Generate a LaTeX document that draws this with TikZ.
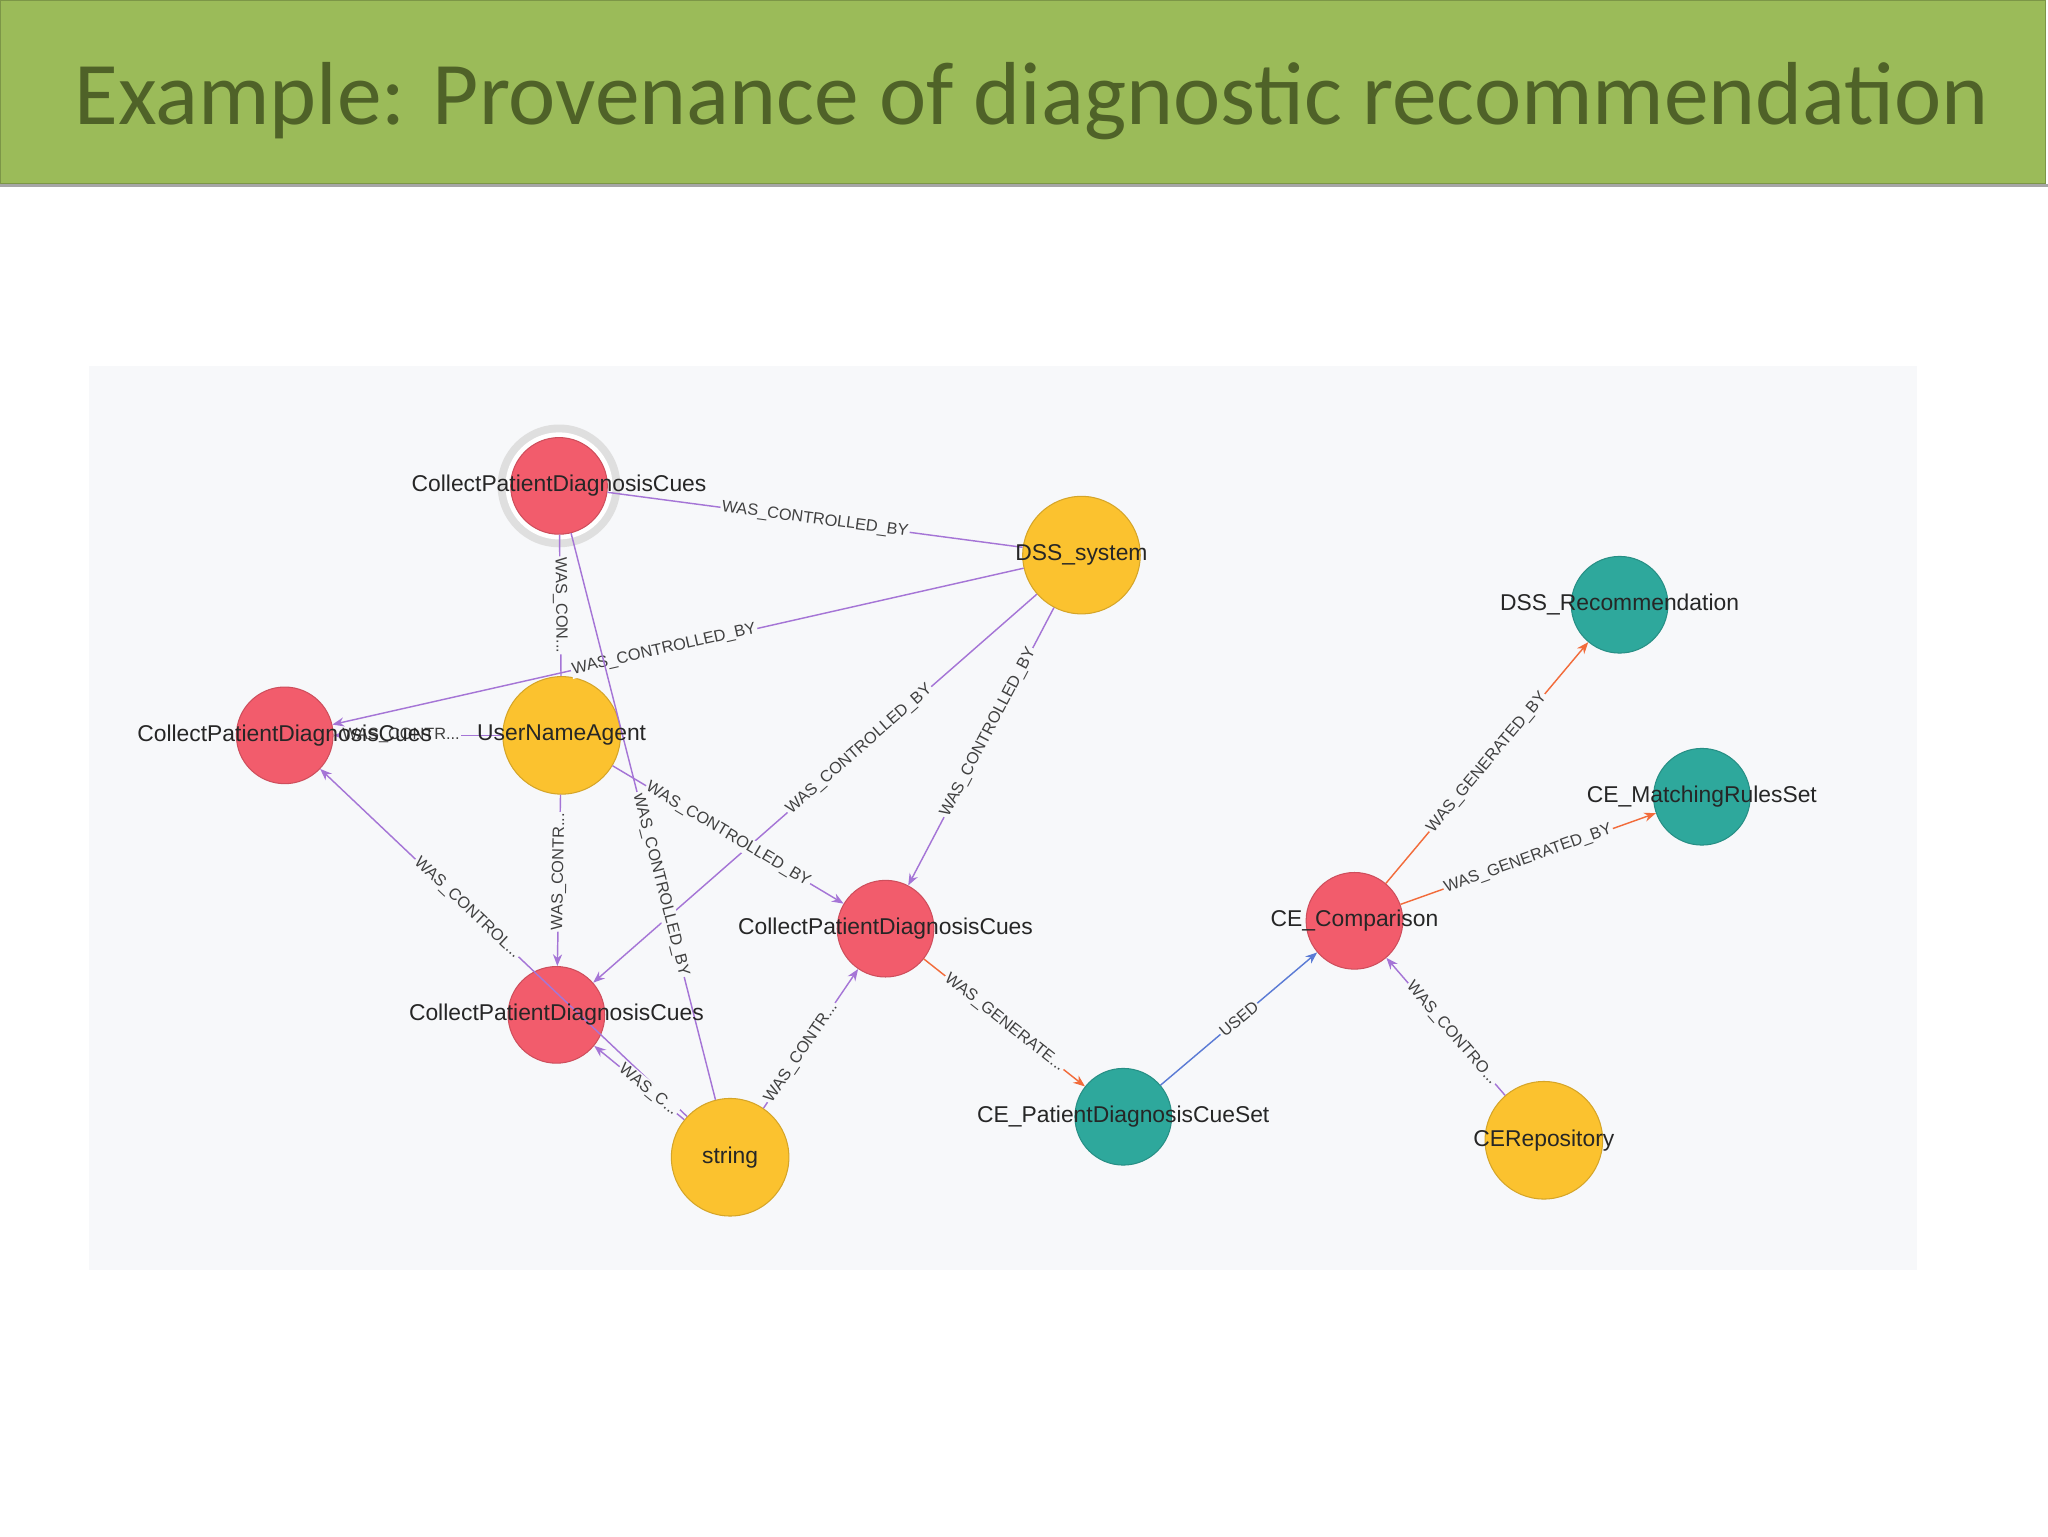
\documentclass[tikz,border=0pt]{standalone}
\usepackage{fontspec}
\setmainfont{Liberation Sans}
\newfontfamily\hdfont{Carlito}
\usetikzlibrary{arrows.meta}
\definecolor{hdgreen}{HTML}{9BBB59}
\definecolor{hdtext}{HTML}{4F6228}
\definecolor{panel}{HTML}{F7F8FA}
\definecolor{nred}{HTML}{F25C6C}
\definecolor{nyel}{HTML}{FBC22F}
\definecolor{nteal}{HTML}{2EA89C}
\definecolor{epur}{HTML}{A575D6}
\definecolor{eora}{HTML}{F26B3A}
\definecolor{eblu}{HTML}{5B7BD5}
\tikzset{
  red/.style={circle,fill=nred,draw=nred!85!black,line width=0.8pt,minimum size=74pt,inner sep=0pt},
  yel/.style={circle,fill=nyel,draw=nyel!85!black,line width=0.8pt,minimum size=90pt,inner sep=0pt},
  teal/.style={circle,fill=nteal,draw=nteal!85!black,line width=0.8pt,minimum size=74pt,inner sep=0pt},
  nlab/.style={font=\fontsize{17.5}{19}\selectfont,text=black!85},
  ed/.style={draw=epur,line width=1.1pt,-{Stealth[length=9pt,width=7pt]}},
  edn/.style={draw=epur,line width=1.1pt},
  eo/.style={draw=eora,line width=1.1pt,-{Stealth[length=9pt,width=7pt]}},
  eb/.style={draw=eblu,line width=1.1pt,-{Stealth[length=9pt,width=7pt]}},
  el/.style={sloped,font=\fontsize{12.5}{13}\selectfont,text=black!75,fill=panel,inner sep=1pt}
}
\begin{document}
\begin{tikzpicture}[x=1pt,y=-1pt]
\useasboundingbox (0,0) rectangle (1568,1176);
\fill[white] (0,0) rectangle (1568,1176);
\fill[hdgreen,draw=hdgreen!80!black] (0,0) rectangle (1566,140);
\draw[gray!70,line width=2pt] (0,142) -- (1568,142);
\node[font=\hdfont\fontsize{68.5}{80}\selectfont,text=hdtext,anchor=base west,inner sep=0pt] (title) at (57,95) {Example: Provenance of diagnostic recommendation};
\fill[panel] (68,280) rectangle (1468,972);
% halo
\fill[gray!25] (428,372) circle (47pt);
\fill[white] (428,372) circle (41pt);
% nodes
\node[red] (c1) at (428,372) {};
\node[yel] (dss) at (828,425) {};
\node[red] (c2) at (218,563) {};
\node[yel] (ua) at (430,563) {};
\node[red] (c3) at (678,711) {};
\node[red] (c4) at (426,777) {};
\node[yel] (str) at (559,886) {};
\node[teal] (cs) at (860,855) {};
\node[red] (cmp) at (1037,705) {};
\node[teal] (rec) at (1240,463) {};
\node[teal] (mrs) at (1303,610) {};
\node[yel] (rep) at (1182,873) {};
% edges
\draw[edn] (c1) -- node[el,pos=0.5]{WAS\_CONTROLLED\_BY} (dss);
\draw[ed] (dss) -- node[el,pos=0.52]{WAS\_CONTROLLED\_BY} (c2);
\draw[ed] (dss) -- node[el,pos=0.4]{WAS\_CONTROLLED\_BY} (c4);
\draw[ed] (dss) -- node[el,pos=0.45]{WAS\_CONTROLLED\_BY} (c3);
\draw[edn] (c1) -- node[el,pos=0.5]{WAS\_CON...} (ua);
\draw[edn] (c1) -- node[el,pos=0.62]{WAS\_CONTROLLED\_BY} (str);
\draw[ed] (ua) -- node[el,pos=0.6]{WAS\_CONTR...} (c2);
\draw[ed] (ua) -- node[el,pos=0.45]{WAS\_CONTR...} (c4);
\draw[ed] (ua) -- node[el,pos=0.5]{WAS\_CONTROLLED\_BY} (c3);
\draw[ed] (str) -- node[el,pos=0.6]{WAS\_CONTROL...} (c2);
\draw[ed] (str) -- node[el,pos=0.4]{WAS\_C...} (c4);
\draw[ed] (str) -- node[el,pos=0.4]{WAS\_CONTR...} (c3);
\draw[eo] (c3) -- node[el,pos=0.5]{WAS\_GENERATE...} (cs);
\draw[eb] (cs) -- node[el,pos=0.5]{USED} (cmp);
\draw[eo] (cmp) -- node[el,pos=0.5]{WAS\_GENERATED\_BY} (rec);
\draw[eo] (cmp) -- node[el,pos=0.5]{WAS\_GENERATED\_BY} (mrs);
\draw[ed] (rep) -- node[el,pos=0.45]{WAS\_CONTRO...} (cmp);
% labels
\node[nlab] (l1) at (c1) {CollectPatientDiagnosisCues};
\node[nlab] (l2) at (dss) {DSS\_system};
\node[nlab] (l3) at (c2) {CollectPatientDiagnosisCues};
\node[nlab] (l4) at (ua) {UserNameAgent};
\node[nlab] (l5) at (c3) {CollectPatientDiagnosisCues};
\node[nlab] (l6) at (c4) {CollectPatientDiagnosisCues};
\node[nlab] (l7) at (str) {string};
\node[nlab] (l8) at (cs) {CE\_PatientDiagnosisCueSet};
\node[nlab] (l9) at (cmp) {CE\_Comparison};
\node[nlab] (l10) at (rec) {DSS\_Recommendation};
\node[nlab] (l11) at (mrs) {CE\_MatchingRulesSet};
\node[nlab] (l12) at (rep) {CERepository};
\end{tikzpicture}
\end{document}
